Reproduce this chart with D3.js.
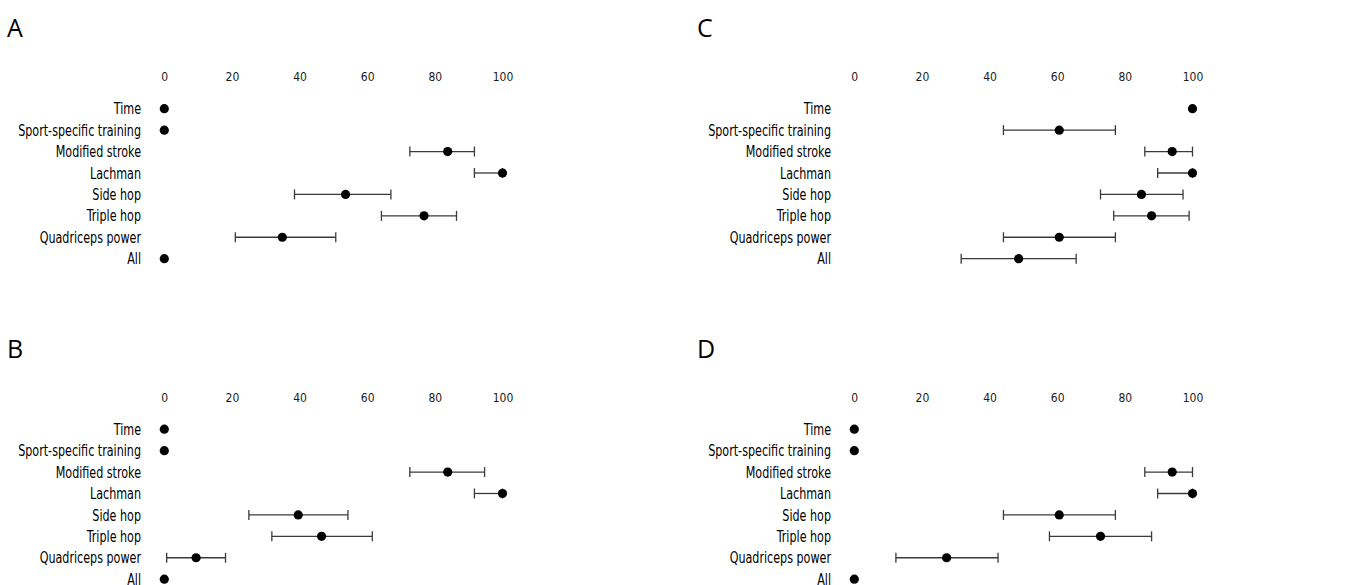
<!DOCTYPE html>
<html>
<head>
<meta charset="utf-8">
<script src="https://cdn.jsdelivr.net/npm/d3@7"></script>
<style>
  body { margin: 0; background: #fff; }
  svg { display: block; }
</style>
</head>
<body>
<svg id="chart" width="1357" height="585"></svg>
<script>
const categories = [
  "Time",
  "Sport-specific training",
  "Modified stroke",
  "Lachman",
  "Side hop",
  "Triple hop",
  "Quadriceps power",
  "All",
];
const ticks = [0, 20, 40, 60, 80, 100];
const panelNames = ["A", "B", "C", "D"];

// point estimate, lower and upper limit per category (null = no interval)
const estA = [0, 0, 83.8, 100, 53.6, 76.8, 34.9, 0];
const lowA = [null, null, 72.6, 91.7, 38.5, 64.2, 21.0, null];
const highA = [null, null, 91.7, 100, 67.0, 86.4, 50.7, null];

const estB = [0, 0, 83.8, 100, 39.6, 46.5, 9.4, 0];
const lowB = [null, null, 72.6, 91.7, 25.0, 31.8, 0.7, null];
const highB = [null, null, 94.7, 100, 54.3, 61.5, 18.1, null];

const estC = [100, 60.6, 94.0, 100, 84.9, 87.9, 60.6, 48.6];
const lowC = [null, 44.1, 85.9, 89.7, 72.8, 76.7, 44.1, 31.6];
const highC = [null, 77.2, 100, 100, 97.2, 99.0, 77.2, 65.6];

const estD = [0, 0, 94.0, 100, 60.6, 72.8, 27.3, 0];
const lowD = [null, null, 85.9, 89.7, 44.1, 57.7, 12.3, null];
const highD = [null, null, 100, 100, 77.2, 87.9, 42.5, null];

const panels = [
  { name: panelNames[0], est: estA, low: lowA, high: highA, dx: 0, dy: 0 },
  { name: panelNames[1], est: estB, low: lowB, high: highB, dx: 0, dy: 320.5 },
  { name: panelNames[2], est: estC, low: lowC, high: highC, dx: 690, dy: 0 },
  { name: panelNames[3], est: estD, low: lowD, high: highD, dx: 690, dy: 320.5 },
];

const svg = d3.select("#chart");
const tickFont = "'DejaVu Sans', sans-serif";
const labelFont = "'DejaVu Sans Condensed', 'DejaVu Sans', sans-serif";
const ink = "#000";
const barColor = "#3a3a3a";

const x = d3.scaleLinear().domain([0, 100]).range([164.3, 502.5]);
const y = d3.scalePoint().domain(categories).range([108.7, 258.7]);

panels.forEach((p) => {
  const g = svg.append("g").attr("transform", `translate(${p.dx},${p.dy})`);

  // panel letter
  g.append("text")
    .attr("x", 7)
    .attr("y", 37)
    .attr("font-family", "'Open Sans', 'Noto Sans', sans-serif")
    .attr("font-size", 25)
    .attr("fill", ink)
    .text(p.name);

  // top axis, no line, just numbers
  const axis = g
    .append("g")
    .attr("transform", "translate(0,81)")
    .call(d3.axisTop(x).tickValues(ticks).tickSize(0).tickPadding(0));
  axis.select(".domain").remove();
  axis
    .selectAll("text")
    .attr("font-family", tickFont)
    .attr("font-size", 13)
    .attr("fill", "#1a1a1a")
    .attr("transform", "scale(0.83,1)");

  // category labels (narrow face in the original, so squeeze a bit)
  const labels = g
    .append("g")
    .selectAll("text")
    .data(categories)
    .join("text")
    .attr("transform", (d) => `translate(141,${y(d)})`)
    .attr("dy", "0.35em")
    .attr("text-anchor", "end")
    .attr("font-family", labelFont)
    .attr("font-size", 16)
    .attr("fill", ink)
    .text((d) => d);

  // fit the longest label to the width it has in the original (~123px)
  const widest = d3.max(labels.nodes(), (n) => n.getComputedTextLength());
  const k = 123 / widest;
  labels.attr("transform", (d) => `translate(141,${y(d)}) scale(${k},1)`);

  const rows = categories.map((c, i) => ({
    cat: c,
    est: p.est[i],
    low: p.low[i],
    high: p.high[i],
  }));
  const withCI = rows.filter((d) => d.low !== null);

  // interval lines
  g.append("g")
    .selectAll("line")
    .data(withCI)
    .join("line")
    .attr("x1", (d) => x(d.low))
    .attr("x2", (d) => x(d.high))
    .attr("y1", (d) => y(d.cat))
    .attr("y2", (d) => y(d.cat))
    .attr("stroke", barColor)
    .attr("stroke-width", 1.3);

  // caps at both ends
  const caps = withCI.flatMap((d) => [
    { cat: d.cat, v: d.low },
    { cat: d.cat, v: d.high },
  ]);
  g.append("g")
    .selectAll("line")
    .data(caps)
    .join("line")
    .attr("x1", (d) => x(d.v))
    .attr("x2", (d) => x(d.v))
    .attr("y1", (d) => y(d.cat) - 5)
    .attr("y2", (d) => y(d.cat) + 5)
    .attr("stroke", barColor)
    .attr("stroke-width", 1.3);

  // point estimates
  g.append("g")
    .selectAll("circle")
    .data(rows)
    .join("circle")
    .attr("cx", (d) => x(d.est))
    .attr("cy", (d) => y(d.cat))
    .attr("r", 4.6)
    .attr("fill", ink);
});
</script>
</body>
</html>
